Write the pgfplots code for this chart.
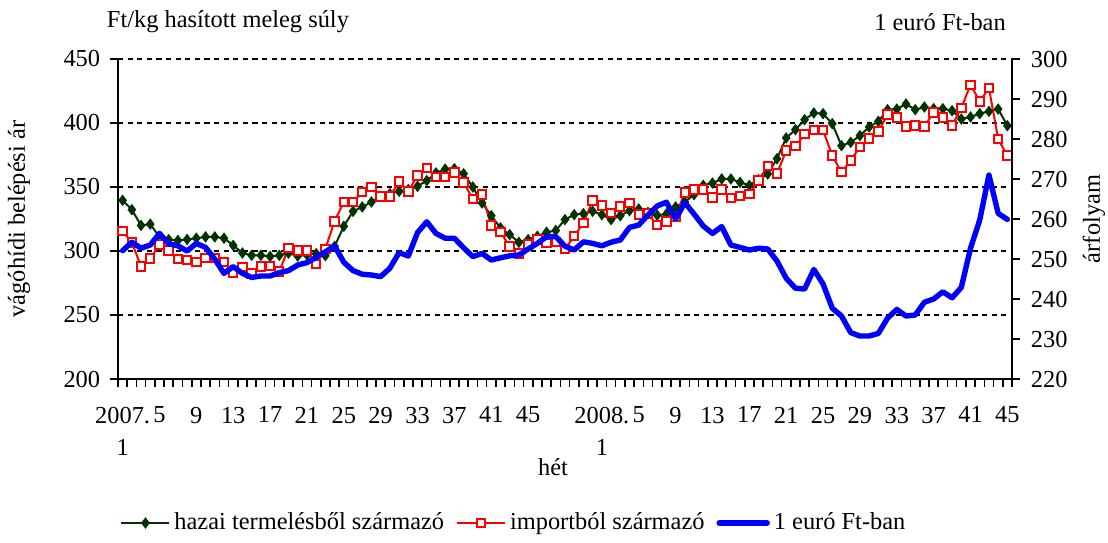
\documentclass[border=0pt]{standalone}
\usepackage{fontspec}
\setmainfont{Liberation Serif}
\usepackage{pgfplots}
\usepackage{pgfplotstable}
\pgfplotsset{compat=1.18}
\definecolor{hgreen}{RGB}{0,51,0}

\pgfplotstableread{
i hazai import euro
0 339.6 315.4 252.1
1 332.3 306.8 254.2
2 320.0 288.0 252.7
3 321.0 294.0 253.5
4 311.0 305.0 256.4
5 308.9 300.5 253.8
6 308.3 293.8 253.3
7 309.0 293.2 252.0
8 310.0 291.4 253.9
9 311.0 294.5 252.9
10 311.0 294.5 250.0
11 310.0 291.4 246.4
12 304.4 282.8 248.1
13 298.4 287.5 246.4
14 296.6 282.3 245.4
15 296.6 288.0 245.75
16 295.8 288.5 245.75
17 296.6 284.0 246.6
18 298.4 302.3 247.1
19 296.0 300.3 248.5
20 297.0 300.3 249.1
21 298.0 290.0 250.4
22 296.4 301.8 251.8
23 303.6 323.2 253.25
24 319.3 338.3 249.2
25 331.0 338.3 247.1
26 334.4 346.0 246.2
27 338.3 350.0 246.0
28 342.7 342.7 245.6
29 344.8 342.7 247.7
30 346.6 354.2 251.6
31 348.0 346.6 250.75
32 350.5 358.9 256.6
33 355.0 364.8 259.3
34 361.0 357.6 256.4
35 364.0 358.0 255.2
36 364.3 361.2 255.2
37 360.4 353.6 252.8
38 350.0 340.6 250.6
39 337.5 344.0 251.4
40 327.6 319.8 249.75
41 318.0 314.8 250.3
42 312.8 303.6 250.8
43 306.8 297.9 251.0
44 308.9 305.0 252.5
45 311.5 308.9 253.9
46 314.6 306.3 255.6
47 316.0 307.0 255.6
48 324.5 301.6 253.2
49 328.4 311.5 252.25
50 329.2 321.9 254.3
51 331.0 339.3 253.9
52 328.4 335.7 253.3
53 324.5 329.7 254.2
54 327.6 334.9 254.75
55 331.5 337.5 257.9
56 332.8 328.4 258.5
57 330.2 329.2 261.0
58 327.9 320.1 263.25
59 328.9 323.2 264.2
60 334.4 326.6 260.0
61 338.3 345.8 264.1
62 344.0 347.9 261.25
63 351.3 347.9 258.25
64 353.1 341.9 256.4
65 356.3 347.9 258.1
66 356.3 341.4 253.5
67 353.6 343.2 252.9
68 351.3 344.5 252.25
69 355.7 355.2 252.7
70 360.2 366.2 252.5
71 372.1 360.4 249.5
72 388.3 378.4 245.2
73 394.8 381.8 242.7
74 402.6 391.4 242.5
75 407.8 394.3 247.4
76 407.3 394.3 243.75
77 399.5 374.7 237.7
78 382.3 361.5 235.75
79 384.9 370.8 231.6
80 390.1 381.3 230.75
81 396.9 387.8 230.75
82 401.3 393.5 231.4
83 410.4 406.5 235.2
84 410.9 404.4 237.4
85 414.8 397.4 235.75
86 410.4 398.2 236.0
87 412.5 397.4 239.2
88 411.2 408.3 240.0
89 411.2 404.4 241.8
90 409.6 398.2 240.3
91 403.1 411.7 242.9
92 404.7 429.9 252.7
93 407.3 416.9 259.75
94 409.1 427.3 271.0
95 410.9 387.5 261.4
96 397.9 374.5 259.9
}\data

\begin{document}
\begin{tikzpicture}
\useasboundingbox (-59pt,-81.5pt) rectangle (495pt,189.5pt);
\pgfplotsset{
  base/.style={
    scale only axis, width=447pt, height=160pt,
    xmin=-0.5, xmax=96.5,
    font=\fontsize{12.2}{16}\selectfont,
    /pgf/number format/assume math mode=true,
    tick align=outside,
    major tick length=0pt,
    minor tick length=4pt,
    axis line style={black, line width=0.8pt},
    every tick/.style={black, line width=0.8pt},
    clip=false,
  }
}
\begin{axis}[base,
  axis x line*=bottom, axis y line*=left,
  ymin=200, ymax=450, ytick={200,250,...,450},
  minor ytick={200,250,...,450},
  ymajorgrids,
  grid style={black, line width=1.3pt, dash pattern=on 2.6pt off 2.2pt},
  xtick={0,4,...,44,52,56,...,96},
  xticklabels={{2007.\\1},5,9,13,17,21,25,29,33,37,41,45,{2008.\\1},5,9,13,17,21,25,29,33,37,41,45},
  minor xtick={-0.5,0.5,...,96.5},
  xticklabel style={align=center, anchor=north, yshift=-10.4pt, font=\fontsize{12.2}{16}\selectfont},
  yticklabel style={xshift=-5.4pt},
  xlabel={hét},
  every axis x label/.style={at={(axis description cs:0.4866,-0.275)}, anchor=center},
  ylabel={vágóhídi belépési ár},
  every axis y label/.style={at={(axis description cs:-0.1107,0.5)}, rotate=90, anchor=center},
]
\addplot[hgreen, line width=1pt, mark=diamond*, mark size=2.5pt, mark options={fill=hgreen, line width=0.5pt}] table[x=i, y=hazai] {\data};
\addplot[red, line width=1pt, mark=square*, mark size=2.1pt, mark options={fill=white, line width=1pt}] table[x=i, y=import] {\data};
\node[anchor=center] at (axis description cs:0.123,1.1156) {Ft/kg hasított meleg súly};
\node[anchor=center] at (axis description cs:0.9195,1.1156) {1 euró Ft-ban};
\end{axis}
\begin{axis}[base,
  axis x line=none, axis y line*=right,
  ymin=220, ymax=300, ytick={220,230,...,300},
  minor ytick={220,230,...,300},
  yticklabel style={xshift=5.9pt},
  ylabel={árfolyam},
  every axis y label/.style={at={(axis description cs:1.0917,0.5)}, rotate=90, anchor=center},
  legend style={at={(axis description cs:0.444,-0.45)}, anchor=center, draw=none, fill=none,
    legend columns=3, font=\fontsize{12.2}{14}\selectfont,
    /tikz/every even column/.append style={column sep=4pt},
    /tikz/every odd column/.append style={column sep=0pt}},
  legend cell align=left,
  legend image code/.code={\draw[mark repeat=2,mark phase=2,#1] plot coordinates {(0pt,0pt)(12pt,0pt)(24pt,0pt)};},
]
\addlegendimage{hgreen, line width=1pt, mark=diamond*, mark size=2.5pt, mark options={fill=hgreen, line width=0.5pt}}
\addlegendentry{hazai termelésből származó}
\addlegendimage{red, line width=1pt, mark=square*, mark size=2.1pt, mark options={fill=white, line width=1pt}}
\addlegendentry{importból származó}
\addplot[blue, line width=2.7pt, line join=round, line cap=round, mark=none] table[x=i, y=euro] {\data};
\addlegendentry{1 euró Ft-ban}
\end{axis}
\end{tikzpicture}
\end{document}
